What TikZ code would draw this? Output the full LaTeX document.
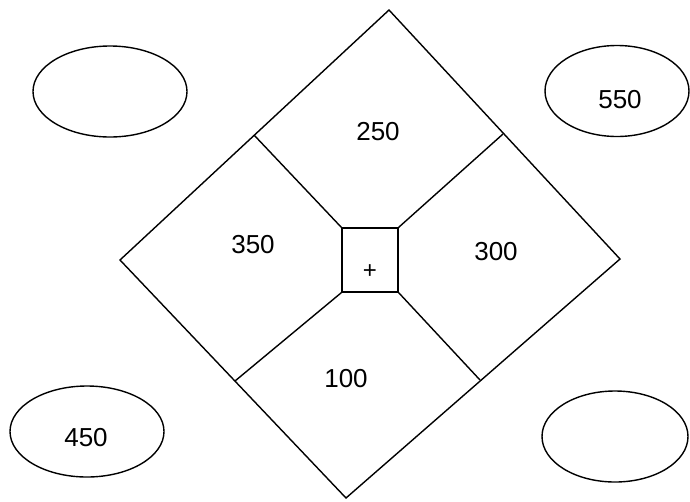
\documentclass[tikz,border=0pt]{standalone}
\usepackage{fontspec}
\setmainfont{Liberation Sans}
\usetikzlibrary{shapes.geometric}
\begin{document}
\begin{tikzpicture}[x=1pt,y=-1pt,line width=1.4pt,
  oval/.style={draw,ellipse,inner sep=0pt,minimum width=154pt,minimum height=91pt},
  lbl/.style={inner sep=0pt,font=\fontsize{26}{30}\selectfont},
  centerbox/.style={draw,rectangle,inner sep=0pt,minimum width=56pt,minimum height=64pt}]
\useasboundingbox (0,0) rectangle (690,501);
% diamond vertices
\coordinate (T) at (389,10);
\coordinate (L) at (120,260);
\coordinate (R) at (620,259);
\coordinate (B) at (346,498);
\draw[line join=miter] (T) -- (R) -- (B) -- (L) -- cycle;
% centre square
\node[centerbox] (sq) at (370,260) {};
\node[lbl,font=\fontsize{24}{28}\selectfont] (plus) at (370,272) {+};
% divider junctions on the diamond edges
\coordinate (jTL) at (254,135);
\coordinate (jTR) at (503,134);
\coordinate (jBL) at (235,381);
\coordinate (jBR) at (480,380);
\draw (jTL) -- (sq.north west);
\draw (jTR) -- (sq.north east);
\draw (jBL) -- (sq.south west);
\draw (jBR) -- (sq.south east);
% region labels
\node[lbl] (v250) at (378,132) {250};
\node[lbl] (v350) at (253,245) {350};
\node[lbl] (v300) at (496,252) {300};
\node[lbl] (v100) at (346,379) {100};
% ellipses
\node[oval] (e1) at (110,91.5) {};
\node[oval,minimum width=144pt] (e2) at (617,91) {};
\node[oval] (e3) at (87,431.5) {};
\node[oval,minimum width=146pt] (e4) at (615,436.5) {};
\node[lbl] (v550) at (620,100) {550};
\node[lbl] (v450) at (86,438) {450};
\end{tikzpicture}
\end{document}
